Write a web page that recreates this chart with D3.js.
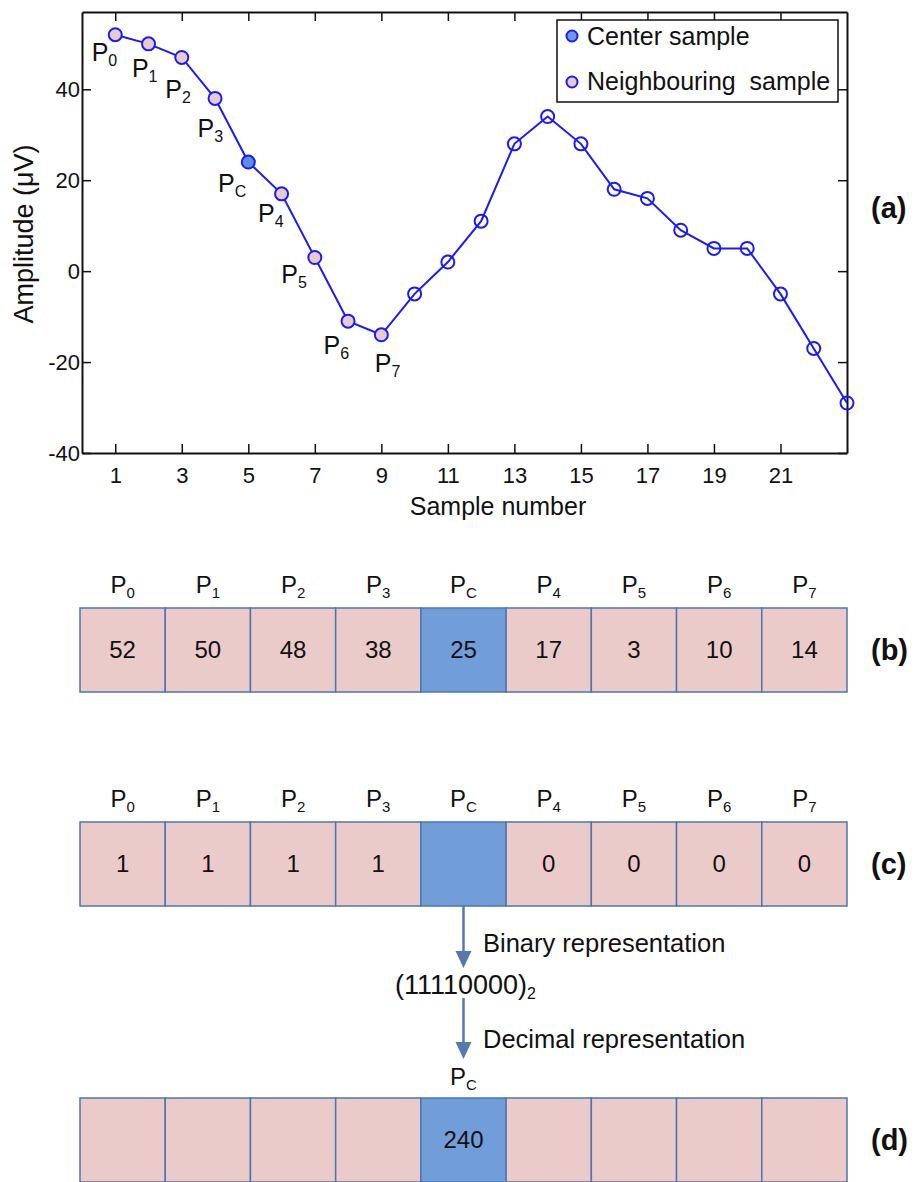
<!DOCTYPE html>
<html>
<head>
<meta charset="utf-8">
<script src="https://cdn.jsdelivr.net/npm/d3@7"></script>
<style>
  body { margin: 0; background: #fff; }
  svg text { font-family: "Liberation Sans", Arial, sans-serif; fill: #111; }
</style>
</head>
<body>
<svg id="fig" width="916" height="1182"></svg>
<script>
// Signal samples (panel a)
const samples = [1, 2, 3, 4, 5, 6, 7, 8, 9, 10, 11, 12, 13, 14, 15, 16, 17, 18, 19, 20, 21, 22, 23];
const amplitudes = [52, 50, 47, 38, 24, 17, 3, -11, -14, -5, 2, 11, 28, 34, 28, 18, 16, 9, 5, 5, -5, -17, -29];
const xTicks = [1, 3, 5, 7, 9, 11, 13, 15, 17, 19, 21];
const yTicks = [-40, -20, 0, 20, 40];

// window of 9 samples around the center
const windowSubs = ["0", "1", "2", "3", "C", "4", "5", "6", "7"];
const rawValues = ["52", "50", "48", "38", "25", "17", "3", "10", "14"];
const binaryValues = ["1", "1", "1", "1", "", "0", "0", "0", "0"];
const decimalValues = ["", "", "", "", "240", "", "", "", ""];
const centerIndex = 4;

const colors = {
  line: "#1a1aff",
  neighbour: "#e8cbca",
  center: "#5f8fdc",
  cellFill: "#ebcbca",
  cellCenter: "#719dd9",
  cellStroke: "#4d75b3",
  arrow: "#5479b0"
};

const svg = d3.select("#fig");

// ---------- panel (a) ----------
const x = d3.scaleLinear().domain([0, 23]).range([82, 847]);
const y = d3.scaleLinear().domain([-40, 57]).range([453, 12]);

function styleAxis(g) {
  g.attr("font-family", null).attr("font-size", null);
  g.select(".domain").attr("stroke", "#111").attr("stroke-width", 2);
  g.selectAll(".tick line").attr("stroke", "#111").attr("stroke-width", 1.5);
  g.selectAll(".tick text").attr("font-size", 22).attr("fill", "#111");
}

svg.append("g").attr("transform", "translate(0,453)")
  .call(d3.axisBottom(x).tickValues(xTicks).tickSize(-9).tickSizeOuter(0).tickPadding(14)
    .tickFormat(d => String(d)))
  .call(styleAxis);
svg.append("g").attr("transform", "translate(0,12)")
  .call(d3.axisTop(x).tickValues(xTicks).tickSize(-9).tickSizeOuter(0).tickFormat(""))
  .call(styleAxis);
svg.append("g").attr("transform", "translate(82,0)")
  .call(d3.axisLeft(y).tickValues(yTicks).tickSize(-9).tickSizeOuter(0).tickPadding(2)
    .tickFormat(d => String(d)))
  .call(styleAxis);
svg.append("g").attr("transform", "translate(847,0)")
  .call(d3.axisRight(y).tickValues(yTicks).tickSize(-9).tickSizeOuter(0).tickFormat(""))
  .call(styleAxis);

svg.append("text")
  .attr("transform", "translate(24,234) rotate(-90)")
  .attr("text-anchor", "middle").attr("dominant-baseline", "central")
  .attr("font-size", 27).text("Amplitude (μV)");
svg.append("text").attr("x", 498).attr("y", 515)
  .attr("text-anchor", "middle").attr("font-size", 25).text("Sample number");

const line = d3.line().x((d, i) => x(samples[i])).y(d => y(d));
svg.append("path").datum(amplitudes)
  .attr("d", line).attr("fill", "none")
  .attr("stroke", colors.line).attr("stroke-width", 2);

svg.selectAll("circle.pt").data(amplitudes).enter().append("circle")
  .attr("class", "pt")
  .attr("cx", (d, i) => x(samples[i]))
  .attr("cy", d => y(d))
  .attr("r", 6.5)
  .attr("stroke", colors.line).attr("stroke-width", 2)
  .attr("fill", (d, i) => i === centerIndex ? colors.center : (i < windowSubs.length ? colors.neighbour : "none"));

// label placement next to the window points
const labelDx = [2, 9, 9, 8, -2, 2, -8, 1, 19];
const labelDy = [26, 33, 41, 39, 30, 28, 25, 33, 37];
windowSubs.forEach((s, i) => {
  const t = svg.append("text")
    .attr("x", x(samples[i]) + labelDx[i])
    .attr("y", y(amplitudes[i]) + labelDy[i])
    .attr("text-anchor", "end").attr("font-size", 25);
  t.append("tspan").text("P");
  t.append("tspan").attr("dy", 5).attr("font-size", 16).text(s);
});

// legend
const legend = svg.append("g");
legend.append("rect").attr("x", 557).attr("y", 20).attr("width", 281).attr("height", 82)
  .attr("fill", "#fff").attr("stroke", "#111").attr("stroke-width", 1.5);
const legendItems = [
  { label: "Center sample", fill: "#6b9be2", cy: 36, ty: 45 },
  { label: "Neighbouring  sample", fill: colors.neighbour, cy: 82, ty: 90 }
];
legendItems.forEach(d => {
  legend.append("circle").attr("cx", 572).attr("cy", d.cy).attr("r", 5.5)
    .attr("fill", d.fill).attr("stroke", colors.line).attr("stroke-width", 2);
  legend.append("text").attr("x", 587).attr("y", d.ty)
    .attr("font-size", 25).style("white-space", "pre").text(d.label);
});

// ---------- panels (b)-(d) ----------
const band = d3.scaleBand().domain(d3.range(9)).range([80, 847]);

function cellRow(top, values, headerY, headers) {
  const g = svg.append("g");
  g.selectAll("rect").data(values).enter().append("rect")
    .attr("x", (d, i) => band(i)).attr("y", top)
    .attr("width", band.bandwidth()).attr("height", 84)
    .attr("fill", (d, i) => i === centerIndex ? colors.cellCenter : colors.cellFill)
    .attr("stroke", colors.cellStroke).attr("stroke-width", 1.5);
  g.selectAll("text.val").data(values).enter().append("text")
    .attr("class", "val")
    .attr("x", (d, i) => band(i) + band.bandwidth() / 2)
    .attr("y", top + 50)
    .attr("text-anchor", "middle").attr("font-size", 24)
    .text(d => d);
  headers.forEach(i => {
    const t = g.append("text")
      .attr("x", band(i) + band.bandwidth() / 2).attr("y", headerY)
      .attr("text-anchor", "middle").attr("font-size", 24);
    t.append("tspan").text("P");
    t.append("tspan").attr("dy", 5).attr("font-size", 15).text(windowSubs[i]);
  });
  return g;
}

const allCells = d3.range(9);
cellRow(608, rawValues, 593, allCells);
cellRow(822, binaryValues, 807, allCells);
cellRow(1098, decimalValues, 1085, [centerIndex]);

// panel tags
[["(a)", 218], ["(b)", 660], ["(c)", 874], ["(d)", 1150]].forEach(([s, ty]) => {
  svg.append("text").attr("x", 871).attr("y", ty)
    .attr("font-size", 29).attr("font-weight", "bold").text(s);
});

// arrows between (c) and (d)
const ax = band(centerIndex) + band.bandwidth() / 2;
function arrow(y0, y1) {
  svg.append("line").attr("x1", ax).attr("x2", ax).attr("y1", y0).attr("y2", y1 - 14)
    .attr("stroke", colors.arrow).attr("stroke-width", 2.5);
  svg.append("path")
    .attr("d", `M${ax - 8},${y1 - 17}L${ax + 8},${y1 - 17}L${ax},${y1}Z`)
    .attr("fill", colors.arrow);
}
arrow(906, 968);
arrow(998, 1059);

svg.append("text").attr("x", 483).attr("y", 952).attr("font-size", 25.5).text("Binary representation");
svg.append("text").attr("x", 483).attr("y", 1048).attr("font-size", 25.5).text("Decimal representation");
const bin = svg.append("text").attr("x", 395).attr("y", 994).attr("font-size", 27);
bin.append("tspan").text("(11110000)");
bin.append("tspan").attr("dy", 5).attr("font-size", 16).text("2");
</script>
</body>
</html>
